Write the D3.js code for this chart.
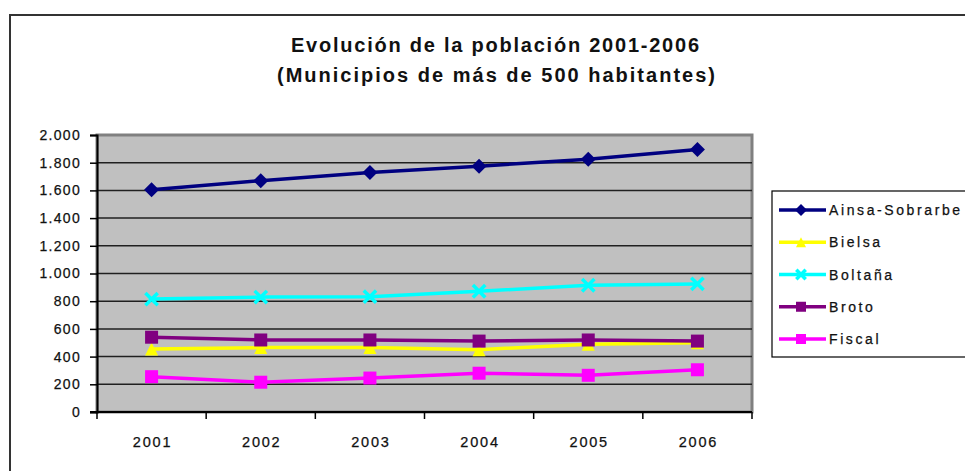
<!DOCTYPE html>
<html>
<head>
<meta charset="utf-8">
<script src="https://cdn.jsdelivr.net/npm/d3@7"></script>
<style>
  body { margin: 0; background: #fff; }
  svg text { font-family: Arial, "Liberation Sans", sans-serif; }
</style>
</head>
<body>
<div id="chart"></div>
<script>
var years = ["2001", "2002", "2003", "2004", "2005", "2006"]
var yTicks = [0, 200, 400, 600, 800, 1000, 1200, 1400, 1600, 1800, 2000]

var ainsa = [1605, 1670, 1730, 1775, 1825, 1895]
var bielsa = [455, 465, 465, 450, 490, 500]
var boltana = [815, 830, 833, 872, 915, 925]
var broto = [540, 520, 520, 512, 520, 512]
var fiscal = [255, 215, 245, 280, 265, 305]

var seriesNames = ["Ainsa-Sobrarbe", "Bielsa", "Boltaña", "Broto", "Fiscal"]
var seriesColors = ["#000080", "#ffff00", "#00ffff", "#800080", "#ff00ff"]
var seriesMarkers = ["diamond", "triangle", "cross", "square", "square"]

var series = [ainsa, bielsa, boltana, broto, fiscal].map(function(v, i) {
  return { name: seriesNames[i], values: v, color: seriesColors[i], marker: seriesMarkers[i] }
})

var width = 965, height = 471
var margin = { top: 135, left: 97, right: 213, bottom: 59 }

var svg = d3.select("#chart").append("svg").attr("width", width).attr("height", height)

// outer chart frame
svg.append("rect")
  .attr("x", 10).attr("y", 15).attr("width", 980).attr("height", 480)
  .attr("fill", "#fff").attr("stroke", "#333").attr("stroke-width", 2)

// title
var title = svg.append("text").attr("text-anchor", "middle")
  .attr("font-size", 20).attr("font-weight", "bold").attr("fill", "#111")
title.append("tspan").attr("x", 495).attr("y", 52)
  .attr("textLength", 408).attr("lengthAdjust", "spacing")
  .text("Evolución de la población 2001-2006")
title.append("tspan").attr("x", 496).attr("y", 82)
  .attr("textLength", 438).attr("lengthAdjust", "spacing")
  .text("(Municipios de más de 500 habitantes)")

var x = d3.scaleBand().domain(years).range([margin.left, width - margin.right])
var y = d3.scaleLinear().domain([0, 2000]).range([height - margin.bottom, margin.top])

// plot area
svg.append("rect")
  .attr("x", margin.left).attr("y", margin.top)
  .attr("width", x.range()[1] - margin.left).attr("height", y(0) - margin.top)
  .attr("fill", "#c0c0c0").attr("stroke", "#808080").attr("stroke-width", 3)

// gridlines
svg.append("g").selectAll("line")
  .data(yTicks.filter(function(d) { return d > 0 && d < 2000 }))
  .enter().append("line")
  .attr("x1", margin.left).attr("x2", x.range()[1])
  .attr("y1", function(d) { return y(d) }).attr("y2", function(d) { return y(d) })
  .attr("stroke", "#202020").attr("stroke-width", 1.5)

var fmt = function(d) { return d3.format(",")(d).replace(/,/g, ".") }

var yAxis = svg.append("g")
  .attr("transform", "translate(" + margin.left + ",0)")
  .call(d3.axisLeft(y).tickValues(yTicks).tickFormat(fmt).tickSize(7).tickPadding(9))
yAxis.select(".domain").attr("stroke", "#000").attr("stroke-width", 2)
yAxis.selectAll(".tick line").attr("stroke", "#000").attr("stroke-width", 1.5)
yAxis.selectAll("text").attr("font-size", 14).attr("letter-spacing", 1.3)
  .attr("fill", "#111").attr("stroke", "#111").attr("stroke-width", 0.25)

// x axis with ticks between categories
var xAxisG = svg.append("g").attr("transform", "translate(0," + y(0) + ")")
xAxisG.append("line")
  .attr("x1", margin.left - 7).attr("x2", x.range()[1])
  .attr("stroke", "#000").attr("stroke-width", 2)
var bounds = years.map(function(d) { return x(d) }).concat([x.range()[1]])
xAxisG.selectAll(".tk").data(bounds).enter().append("line")
  .attr("x1", function(d) { return d }).attr("x2", function(d) { return d })
  .attr("y1", 0).attr("y2", 7).attr("stroke", "#000").attr("stroke-width", 1.5)
xAxisG.selectAll("text").data(years).enter().append("text")
  .attr("x", function(d) { return x(d) + x.bandwidth() / 2 + 1 })
  .attr("y", 35).attr("text-anchor", "middle")
  .attr("font-size", 14.5).attr("letter-spacing", 1.8)
  .attr("fill", "#111").attr("stroke", "#111").attr("stroke-width", 0.25)
  .text(function(d) { return d })

var cx = function(i) { return x(years[i]) + x.bandwidth() / 2 }

function drawMarker(g, type, color, px, py, s) {
  var h = s / 2
  if (type === "diamond") {
    g.append("path").attr("d", "M0," + (-h - 1) + "L" + (h + 1) + ",0L0," + (h + 1) + "L" + (-h - 1) + ",0Z")
      .attr("transform", "translate(" + px + "," + py + ")").attr("fill", color)
  } else if (type === "triangle") {
    g.append("path").attr("d", "M0," + (-h) + "L" + h + "," + h + "L" + (-h) + "," + h + "Z")
      .attr("transform", "translate(" + px + "," + py + ")").attr("fill", color)
  } else if (type === "cross") {
    g.append("path").attr("d", d3.symbol().type(d3.symbolX).size(s * s * 0.6)())
      .attr("transform", "translate(" + px + "," + py + ")")
      .attr("fill", "none").attr("stroke", color).attr("stroke-width", 3.5)
  } else {
    g.append("rect").attr("x", px - h).attr("y", py - h)
      .attr("width", s).attr("height", s).attr("fill", color)
  }
}

var line = d3.line()
  .x(function(d, i) { return cx(i) })
  .y(function(d) { return y(d) })

var plot = svg.append("g")
series.forEach(function(s) {
  var g = plot.append("g")
  g.append("path").datum(s.values).attr("d", line)
    .attr("fill", "none").attr("stroke", s.color).attr("stroke-width", 3.5)
  s.values.forEach(function(v, i) { drawMarker(g, s.marker, s.color, cx(i), y(v), 13) })
})

// legend
var lg = svg.append("g")
lg.append("rect").attr("x", 772).attr("y", 191).attr("width", 220).attr("height", 166)
  .attr("fill", "#fff").attr("stroke", "#000").attr("stroke-width", 1.2)
var ly = d3.scalePoint().domain(seriesNames).range([210, 339])
series.forEach(function(s) {
  var yy = ly(s.name)
  lg.append("line").attr("x1", 779).attr("x2", 826).attr("y1", yy).attr("y2", yy)
    .attr("stroke", s.color).attr("stroke-width", 3.5)
  drawMarker(lg, s.marker, s.color, 801, yy, 10)
  lg.append("text").attr("x", 829).attr("y", yy + 5).attr("font-size", 14)
    .attr("letter-spacing", 2.6).attr("fill", "#111")
    .attr("stroke", "#111").attr("stroke-width", 0.25).text(s.name)
})
</script>
</body>
</html>
